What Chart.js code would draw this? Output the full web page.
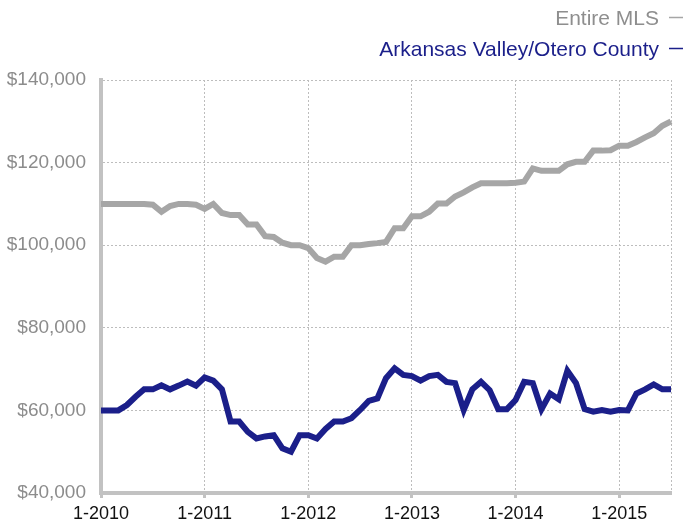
<!DOCTYPE html>
<html>
<head>
<meta charset="utf-8">
<title>Median Sales Price</title>
<script src="https://cdn.jsdelivr.net/npm/chart.js@4"></script>
<style>
    html, body { margin: 0; padding: 0; background: #ffffff; }
    #wrap { width: 689px; height: 525px; }
</style>
</head>
<body>
<div id="wrap"><canvas id="chart" width="689" height="525"></canvas></div>
<script>

// monthly data, Jan 2010 through Jul 2015

const years = [2010, 2011, 2012, 2013, 2014, 2015];
const lastMonth = 7;

const seriesNames = ["Entire MLS", "Arkansas Valley/Otero County"];

const entireMls = [
    110000, 110000, 110000, 110000, 110000, 110000, 109800, 108100, 109500, 110000,
    110000, 109800, 108800, 110000, 107800, 107300, 107300, 105000, 105000, 102200,
    102000, 100600, 100000, 100000, 99300, 96900, 96000, 97200, 97200, 100000,
    100000, 100300, 100500, 100800, 104100, 104100, 107000, 107000, 108100, 110100,
    110100, 111800, 112800, 114000, 115000, 115000, 115000, 115000, 115100, 115400,
    118600, 118000, 118000, 118000, 119600, 120200, 120200, 122900, 122900, 123000,
    124100, 124100, 125000, 126100, 127100, 128900, 130000
];

const arkansasValley = [
    60000, 60000, 60000, 61300, 63300, 65100, 65100, 66100, 65100, 66000,
    67000, 66000, 68000, 67200, 65100, 57300, 57300, 54800, 53200, 53700,
    54000, 50800, 50000, 54000, 54000, 53200, 55500, 57300, 57300, 58100,
    60100, 62300, 62900, 67800, 70200, 68600, 68300, 67200, 68300, 68600,
    66900, 66600, 60100, 65100, 66900, 64900, 60300, 60300, 62500, 66900,
    66600, 60300, 64100, 62700, 69600, 66600, 60300, 59700, 60100, 59700,
    60100, 60000, 64100, 65100, 66300, 65100, 65100
];

const yTicks = { min: 40000, max: 140000, step: 20000 };

const lineColors = ["#a6a6a6", "#1b1f8a"];
const legendColors = ["#8e8e8e", "#1b1f8a"];


// "1-2010", "2-2010", ... labels
let labels = [];
years.forEach(function (yr) {
    for (let m = 1; m <= 12; m++) {
        if (yr === years[years.length - 1] && m > lastMonth) break;
        labels.push(m + "-" + yr);
    }
});

function isJanuary(i) {
    return labels[i] !== undefined && labels[i].startsWith("1-");
}


// legend is text first, then a short line in the series colour
const sideLegend = {
    id: "sideLegend",
    afterDraw(chart) {
        const ctx = chart.ctx;
        ctx.save();
        ctx.font = "21px 'Liberation Sans', Arial, sans-serif";
        ctx.textAlign = "right";
        ctx.textBaseline = "alphabetic";
        chart.data.datasets.forEach(function (ds, i) {
            const y = 25 + i * 31;
            ctx.fillStyle = legendColors[i];
            ctx.fillText(ds.label, 659, y);
            ctx.strokeStyle = ds.borderColor;
            ctx.lineWidth = 1.5;
            ctx.beginPath();
            ctx.moveTo(669, y - 7.5);
            ctx.lineTo(683, y - 7.5);
            ctx.stroke();
        });
        ctx.restore();
    }
};


Chart.defaults.font.family = "'Liberation Sans', Arial, sans-serif";

const ctx = document.getElementById("chart").getContext("2d");

new Chart(ctx, {

    type: "line",

    data: {
        labels: labels,
        datasets: [
            {
                label: seriesNames[0],
                data: entireMls,
                borderColor: lineColors[0],
                borderWidth: 6,
                pointRadius: 0,
                tension: 0
            },
            {
                label: seriesNames[1],
                data: arkansasValley,
                borderColor: lineColors[1],
                borderWidth: 6,
                pointRadius: 0,
                tension: 0
            }
        ]
    },

    options: {
        responsive: false,
        animation: false,
        layout: { padding: { top: 80, right: 18, left: 0, bottom: 0 } },
        plugins: {
            legend: { display: false },
            tooltip: { enabled: false }
        },
        scales: {
            x: {
                offset: false,
                // in v4 border.dash sets the dash of the grid lines
                border: { color: "#c2c2c2", width: 4, dash: [2, 2] },
                grid: {
                    color: function (c) {
                        return (isJanuary(c.index) || c.index === labels.length - 1) ? "#bdbdbd" : "rgba(0,0,0,0)";
                    },
                    lineWidth: 1,
                    tickLength: 5,
                    tickWidth: 3,
                    tickBorderDash: [],
                    tickColor: function (c) {
                        return isJanuary(c.index) ? "#c2c2c2" : "rgba(0,0,0,0)";
                    }
                },
                ticks: {
                    autoSkip: false,
                    maxRotation: 0,
                    color: "#111111",
                    font: { size: 18 },
                    padding: 5,
                    callback: function (v, i) {
                        return isJanuary(i) ? labels[i] : "";
                    }
                },
                afterFit: function (scale) { scale.height = 32; }
            },
            y: {
                min: yTicks.min,
                max: yTicks.max,
                border: { color: "#c2c2c2", width: 4, dash: [2, 2] },
                grid: {
                    color: "#bdbdbd",
                    lineWidth: 1,
                    drawTicks: false
                },
                ticks: {
                    stepSize: yTicks.step,
                    color: "#8c8c8c",
                    font: { size: 19 },
                    padding: 15,
                    callback: function (v) {
                        return "$" + v.toLocaleString("en-US");
                    }
                },
                afterFit: function (scale) { scale.width = 101; }
            }
        }
    },

    plugins: [sideLegend]

});

</script>
</body>
</html>
